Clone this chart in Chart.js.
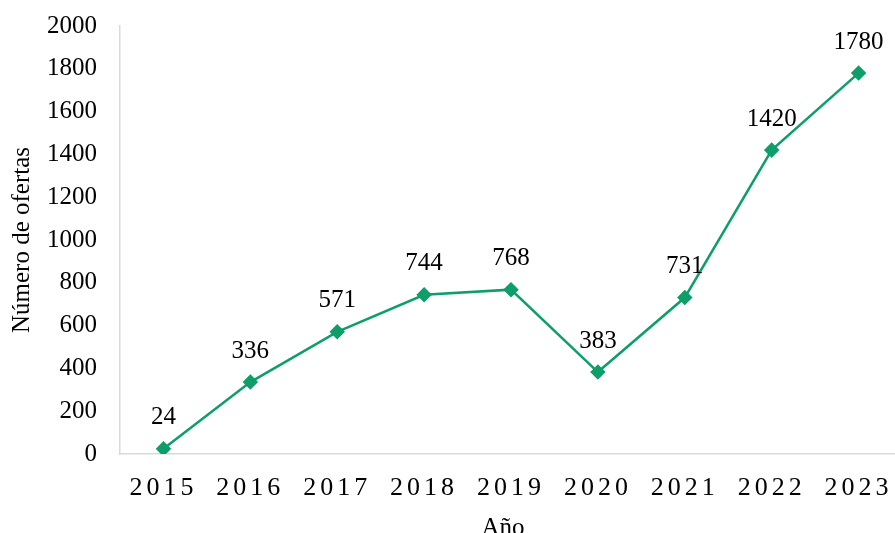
<!DOCTYPE html>
<html lang="es">
<head>
    <meta charset="UTF-8">
    <title>Número de ofertas por año</title>
    <style>
        body { margin: 0; padding: 0; background: #fff; overflow: hidden; }
        .wrap { position: relative; width: 920px; height: 560px; }
    </style>
</head>
<body>
    <div class="wrap"><canvas id="ofertasChart"></canvas></div>
    <script src="https://cdn.jsdelivr.net/npm/chart.js"></script>
    <script>
        const years = ['2015', '2016', '2017', '2018', '2019', '2020', '2021', '2022', '2023'];
        const ofertas = [24, 336, 571, 744, 768, 383, 731, 1420, 1780];
        const yTicks = [0, 200, 400, 600, 800, 1000, 1200, 1400, 1600, 1800, 2000];

        const green = '#0E9E6A';
        const serif = "'Liberation Serif', 'Times New Roman', serif";

        // values above each point, years with letter spacing, axis title
        const labelPlugin = {
            id: 'labels',
            afterDatasetsDraw(chart) {
                const ctx = chart.ctx;
                const meta = chart.getDatasetMeta(0);
                ctx.save();
                ctx.font = '25px ' + serif;
                ctx.fillStyle = '#000';
                ctx.textAlign = 'center';
                ctx.textBaseline = 'middle';
                meta.data.forEach((pt, i) => {
                    ctx.fillText(String(ofertas[i]), pt.x, pt.y - 31);
                });
                const xs = chart.scales.x;
                ctx.fillText('Año', (xs.left + xs.right) / 2 - 8, xs.top + 74);
                ctx.letterSpacing = '4px';
                ctx.font = '26px ' + serif;
                years.forEach((y, i) => {
                    ctx.fillText(y, xs.getPixelForTick(i), xs.top + 34);
                });
                ctx.restore();
            }
        };

        new Chart(document.getElementById('ofertasChart'), {
            type: 'line',
            data: {
                labels: years,
                datasets: [{
                    data: ofertas,
                    borderColor: green,
                    backgroundColor: green,
                    borderWidth: 2.5,
                    pointStyle: 'rectRot',
                    pointRadius: 6,
                    pointBackgroundColor: green,
                    pointBorderColor: green,
                    tension: 0
                }]
            },
            options: {
                responsive: true,
                maintainAspectRatio: false,
                animation: false,
                layout: { padding: { top: 26, right: 18, left: 0, bottom: 0 } },
                plugins: { legend: { display: false }, tooltip: { enabled: false } },
                scales: {
                    x: {
                        offset: true,
                        grid: { display: false },
                        border: { display: true, color: '#d9d9d9', width: 1.5 },
                        ticks: { display: false },
                        afterFit: s => { s.height = 106; }
                    },
                    y: {
                        min: 0, max: 2000,
                        afterBuildTicks: s => { s.ticks = yTicks.map(v => ({ value: v })); },
                        grid: { display: false, drawTicks: false },
                        border: { display: true, color: '#d9d9d9', width: 1.5 },
                        ticks: {
                            color: '#000', font: { family: serif, size: 25 }, padding: 23,
                            callback: v => String(v)
                        },
                        title: {
                            display: true, text: 'Número de ofertas', color: '#000',
                            font: { family: serif, size: 25 }, padding: { top: 7, bottom: 0 }
                        },
                        afterFit: s => { s.width = 120; s.paddingTop = 0; s.paddingBottom = 0; }
                    }
                }
            },
            plugins: [labelPlugin]
        });
    </script>
</body>
</html>
